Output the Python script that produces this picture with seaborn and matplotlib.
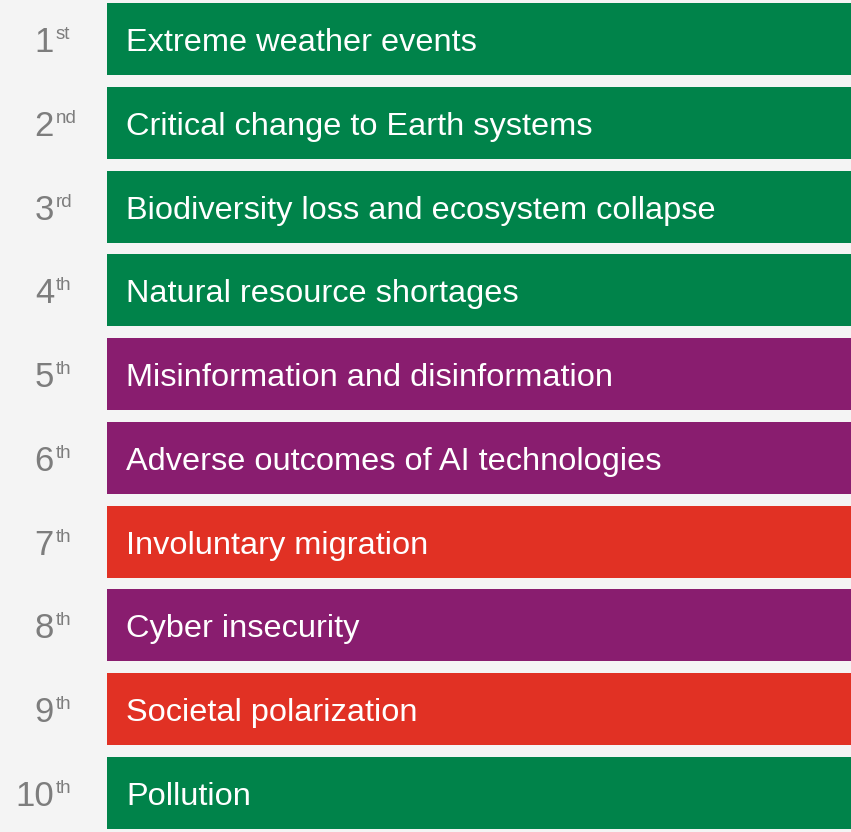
import matplotlib
matplotlib.use("Agg")
import matplotlib.pyplot as plt
import seaborn as sns
import pandas as pd

rank_numbers = ["1", "2", "3", "4", "5", "6", "7", "8", "9", "10"]
rank_suffixes = ["st", "nd", "rd", "th", "th", "th", "th", "th", "th", "th"]
risks = [
    "Extreme weather events",
    "Critical change to Earth systems",
    "Biodiversity loss and ecosystem collapse",
    "Natural resource shortages",
    "Misinformation and disinformation",
    "Adverse outcomes of AI technologies",
    "Involuntary migration",
    "Cyber insecurity",
    "Societal polarization",
    "Pollution",
]
categories = ["Environmental", "Environmental", "Environmental", "Environmental",
              "Technological", "Technological", "Societal", "Technological",
              "Societal", "Environmental"]
bar_values = [100] * 10
category_colors = {"Environmental": "#00834a", "Technological": "#891d6f", "Societal": "#e13124"}

df = pd.DataFrame({"risk": risks, "value": bar_values, "category": categories})

sns.set_theme(style="white")
plt.rcParams["font.family"] = ["Liberation Sans", "DejaVu Sans"]

fig = plt.figure(figsize=(8.51, 8.32), dpi=100)
fig.patch.set_facecolor("#f4f4f4")
ax = fig.add_axes([0, 0, 1, 1])
ax.set_facecolor("#f4f4f4")

sns.barplot(data=df, x="value", y="risk", hue="risk",
            palette=[category_colors[c] for c in categories], saturation=1,
            orient="h", width=0.86, linewidth=0, legend=False, ax=ax)

xmin = -107 / 744 * 100
ax.set_xlim(xmin, 100)
ax.set_ylim(9.465, -0.465)
ax.axis("off")

px = 100 / 744  # data units per pixel horizontally
for i, (risk, num, suf) in enumerate(zip(risks, rank_numbers, rank_suffixes)):
    ax.text((126 - 107) * px, i + 0.143, risk, color="white",
            fontsize=23.4, va="baseline", ha="left")
    ax.text(xmin + 54 * px, i + 0.155, num, color="#7d7d7d",
            fontsize=25, va="baseline", ha="right")
    ax.text(xmin + 56 * px, i + 0.0, suf, color="#7d7d7d",
            fontsize=13.5, va="baseline", ha="left")

fig.savefig("out.png", dpi=100, facecolor=fig.get_facecolor())
